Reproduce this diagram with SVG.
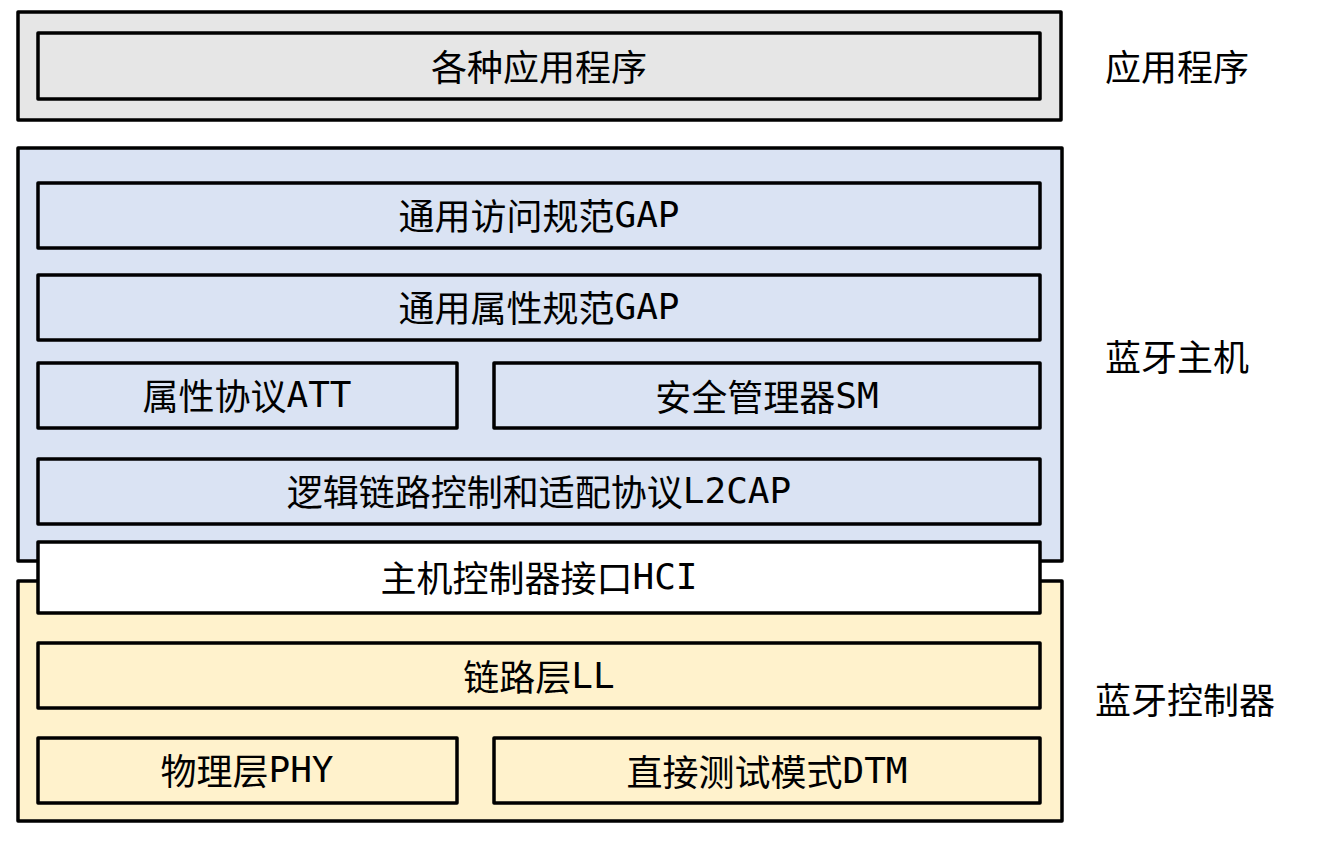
<svg xmlns="http://www.w3.org/2000/svg" width="1325" height="843" viewBox="0 0 1325 843">
<style>
.b{stroke:#000;stroke-width:3.5;stroke-linejoin:round}
.g{fill:#e6e6e6}
.bl{fill:#dae3f3}
.y{fill:#fff2cc}
.w{fill:#ffffff}
text{font-family:"Noto Sans CJK SC","DejaVu Sans Mono",monospace;font-size:36px;fill:#000;text-anchor:middle;dominant-baseline:central}
.m{font-family:"DejaVu Sans Mono","Liberation Mono",monospace}
</style>
<rect width="1325" height="843" fill="#fff"/>
<g id="app-layer"><rect class="b g" x="18" y="12" width="1043" height="108"/></g>
<g id="app"><rect class="b g" x="38" y="33" width="1002" height="66"/><text x="539" y="65">各种应用程序</text></g>
<g id="host-layer"><rect class="b bl" x="18" y="148" width="1044" height="413"/></g>
<g id="ctrl-layer"><rect class="b y" x="18" y="581" width="1044" height="240"/></g>
<g id="gap"><rect class="b bl" x="38" y="183" width="1002" height="65"/><text x="539" y="214">通用访问规范<tspan class="m">GAP</tspan></text></g>
<g id="gatt"><rect class="b bl" x="38" y="275" width="1002" height="65"/><text x="539" y="306">通用属性规范<tspan class="m">GAP</tspan></text></g>
<g id="att"><rect class="b bl" x="38" y="363" width="419" height="65"/><text x="247" y="394">属性协议<tspan class="m">ATT</tspan></text></g>
<g id="sm"><rect class="b bl" x="494" y="363" width="546" height="65"/><text x="767" y="395">安全管理器<tspan class="m">SM</tspan></text></g>
<g id="l2cap"><rect class="b bl" x="38" y="459" width="1002" height="65"/><text x="539" y="490">逻辑链路控制和适配协议<tspan class="m">L2CAP</tspan></text></g>
<g id="hci"><rect class="b w" x="38" y="542" width="1002" height="71"/><text x="539" y="576">主机控制器接口<tspan class="m">HCI</tspan></text></g>
<g id="ll"><rect class="b y" x="38" y="643" width="1002" height="65"/><text x="539" y="675">链路层<tspan class="m">LL</tspan></text></g>
<g id="phy"><rect class="b y" x="38" y="738" width="419" height="65"/><text x="247" y="769">物理层<tspan class="m">PHY</tspan></text></g>
<g id="dtm"><rect class="b y" x="494" y="738" width="546" height="65"/><text x="767" y="770">直接测试模式<tspan class="m">DTM</tspan></text></g>
<g id="labels">
<text x="1177" y="65">应用程序</text>
<text x="1177" y="355">蓝牙主机</text>
<text x="1185" y="698">蓝牙控制器</text>
</g>
<g id="connectors"></g>
</svg>
